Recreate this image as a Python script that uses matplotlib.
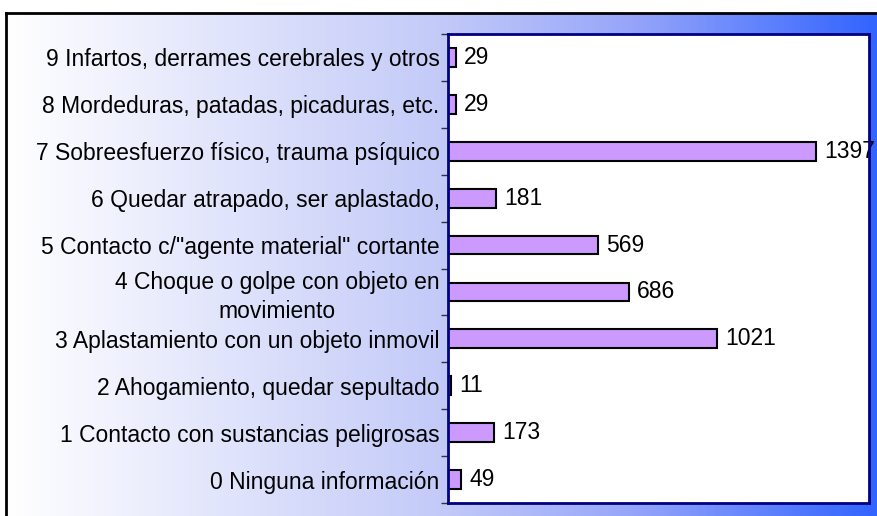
import matplotlib.pyplot as plt
import numpy as np
from matplotlib.colors import LinearSegmentedColormap

plt.rcParams['font.family'] = ['Liberation Sans', 'DejaVu Sans']

# categories from bottom to top
categorias = [
    "0 Ninguna información",
    "1 Contacto con sustancias peligrosas",
    "2 Ahogamiento, quedar sepultado",
    "3 Aplastamiento con un objeto inmovil",
    "4 Choque o golpe con objeto en\nmovimiento",
    "5 Contacto c/\"agente material\" cortante",
    "6 Quedar atrapado, ser aplastado,",
    "7 Sobreesfuerzo físico, trauma psíquico",
    "8 Mordeduras, patadas, picaduras, etc.",
    "9 Infartos, derrames cerebrales y otros",
]
valores = [49, 173, 11, 1021, 686, 569, 181, 1397, 29, 29]

W, H = 877, 516
fig = plt.figure(figsize=(W / 100, H / 100), dpi=100)
fig.patch.set_facecolor("white")

# gradient background (white -> blue)
bg = fig.add_axes([6 / W, 0, 1 - 6 / W, (H - 13) / H])
cmap = LinearSegmentedColormap.from_list(
    "fondo",
    [(0.0, (1, 1, 1)), (0.5, (195 / 255, 202 / 255, 248 / 255)),
     (0.72, (150 / 255, 165 / 255, 250 / 255)), (1.0, (50 / 255, 100 / 255, 1.0))])
bg.imshow(np.linspace(0, 1, 256).reshape(1, -1), aspect="auto", cmap=cmap,
          extent=[0, 1, 0, 1])
bg.set_xlim(0, 1)
bg.set_ylim(0, 1)
bg.set_xticks([])
bg.set_yticks([])
for s in ["right", "bottom"]:
    bg.spines[s].set_visible(False)
for s in ["left", "top"]:
    bg.spines[s].set_linewidth(2)
    bg.spines[s].set_color("black")

ax = fig.add_axes([448 / W, 13 / H, (869 - 448) / W, (503 - 34) / H])
ax.set_facecolor("white")
y = np.arange(len(valores))
ax.barh(y, valores, height=0.4, color="#CC99FF", edgecolor="black", linewidth=1.5, zorder=2)
ax.set_xlim(0, 1600)
ax.set_ylim(-0.5, len(valores) - 0.5)
ax.set_xticks([])
ax.set_yticks(y)
ax.set_yticklabels(categorias, fontsize=16.5, multialignment="center", linespacing=1.3)
ax.tick_params(axis="y", which="major", length=0, pad=6)
ax.set_yticks(np.arange(-0.5, len(valores), 1), minor=True)
ax.tick_params(axis="y", which="minor", length=5, width=1, color="#333333")
for s in ax.spines.values():
    s.set_color("#000080")
    s.set_linewidth(2)
    s.set_zorder(3)

for yi, v in zip(y, valores):
    ax.annotate(str(v), (v, yi), xytext=(6, 0), textcoords="offset points",
                va="center", ha="left", fontsize=16.5, clip_on=False)

fig.savefig("out.png", dpi=100)
